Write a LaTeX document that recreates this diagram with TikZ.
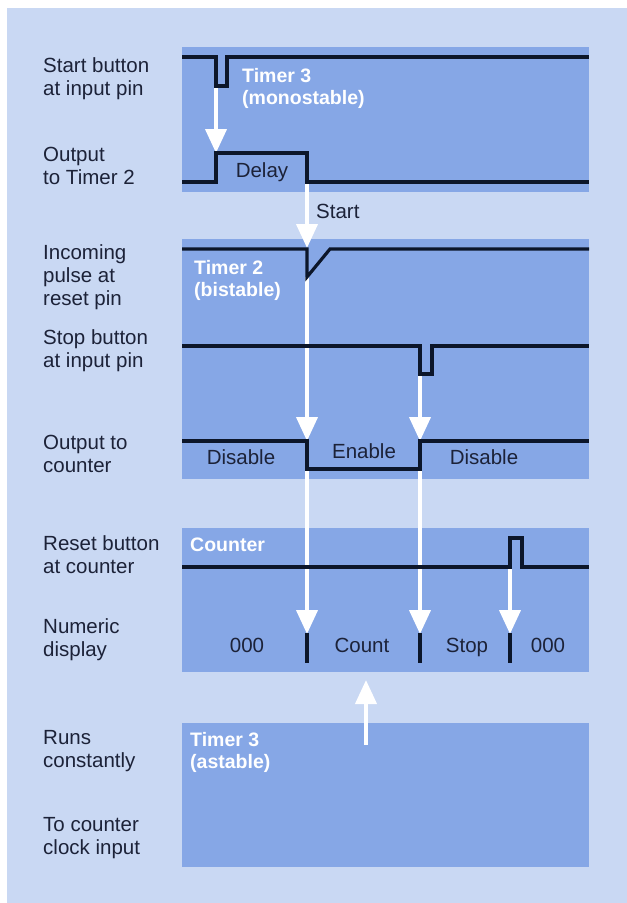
\documentclass[tikz,border=0pt]{standalone}
\usepackage{fontspec}
\setmainfont{Liberation Sans}
\usetikzlibrary{arrows.meta}
\definecolor{bgl}{RGB}{201,216,243}
\definecolor{boxb}{RGB}{134,167,230}
\definecolor{sig}{RGB}{12,22,42}
\definecolor{txt}{RGB}{28,34,56}
\begin{document}
\begin{tikzpicture}[x=1pt,y=-1pt,
  panel/.style={fill=boxb},
  sigline/.style={draw=sig,line width=3.2pt,line join=miter,line cap=butt},
  tick/.style={draw=sig,line width=3.2pt},
  warrow/.style={draw=white,line width=4pt,-{Triangle[width=21pt,length=24pt]}},
  lbl/.style={anchor=west,align=left,inner sep=0pt,text=txt,font=\fontsize{20.5}{23}\selectfont},
  wlbl/.style={anchor=west,align=left,inner sep=0pt,text=white,font=\bfseries\fontsize{19.5}{22}\selectfont},
  val/.style={inner sep=0pt,text=txt,text height=14.5pt,text depth=4pt,font=\fontsize{20.5}{22}\selectfont}
]
\useasboundingbox (0,0) rectangle (627,903);
\fill[white] (0,0) rectangle (627,903);
\fill[bgl] (7,8) rectangle (627,903);

% panels
\fill[panel] (182,47) rectangle (589,192);
\fill[panel] (182,239) rectangle (589,479);
\fill[panel] (182,528) rectangle (589,672);
\fill[panel] (182,723) rectangle (589,867);

% left labels
\node[lbl] (l1) at (43,78.5) {Start button\\at input pin};
\node[lbl] (l2) at (43,166) {Output\\to Timer 2};
\node[lbl] (l3) at (43,277) {Incoming\\pulse at\\reset pin};
\node[lbl] (l4) at (43,351) {Stop button\\at input pin};
\node[lbl] (l5) at (43,453.5) {Output to\\counter};
\node[lbl] (l6) at (43,554.5) {Reset button\\at counter};
\node[lbl] (l7) at (43,639.5) {Numeric\\display};
\node[lbl] (l8) at (43,751) {Runs\\constantly};
\node[lbl] (l9) at (43,838.5) {To counter\\clock input};

% white panel titles
\node[wlbl] (t1) at (242,88) {Timer 3\\(monostable)};
\node[wlbl] (t2) at (194,280) {Timer 2\\(bistable)};
\node[wlbl] (t3) at (190,545) {Counter};
\node[wlbl] (t4) at (190,752) {Timer 3\\(astable)};

% coordinates
\coordinate (a1s) at (216,86);   \coordinate (a1e) at (216,153);
\coordinate (a2s) at (307,182);  \coordinate (a2e) at (307,248);
\coordinate (a3s) at (307,277);  \coordinate (a3e) at (307,441);
\coordinate (a4s) at (307,469);  \coordinate (a4e) at (307,634);
\coordinate (a5s) at (420,374);  \coordinate (a5e) at (420,441);
\coordinate (a6s) at (420,469);  \coordinate (a6e) at (420,634);
\coordinate (a7s) at (510,567);  \coordinate (a7e) at (510,634);
\coordinate (a8s) at (366,745);  \coordinate (a8e) at (366,680);

% white arrows
\draw[warrow] (a1s) -- (a1e);
\draw[warrow] (a2s) -- (a2e);
\draw[warrow] (a3s) -- (a3e);
\draw[warrow] (a4s) -- (a4e);
\draw[warrow] (a5s) -- (a5e);
\draw[warrow] (a6s) -- (a6e);
\draw[warrow] (a7s) -- (a7e);
\draw[warrow] (a8s) -- (a8e);
\node[lbl] (st) at (316,211) {Start};

% signal lines
\draw[sigline] (182,57) -- (216,57) -- (216,86) -- (227,86) -- (227,57) -- (589,57);
\draw[sigline] (182,182) -- (216,182) -- (216,153) -- (307,153) -- (307,182) -- (589,182);
\draw[sigline] (182,249) -- (307,249) -- (307,277) -- (330,249) -- (589,249);
\draw[sigline] (182,346) -- (420,346) -- (420,374) -- (432,374) -- (432,346) -- (589,346);
\draw[sigline] (182,441) -- (307,441) -- (307,469) -- (420,469) -- (420,441) -- (589,441);
\draw[sigline] (182,567) -- (510,567) -- (510,538) -- (522,538) -- (522,567) -- (589,567);

% ticks
\draw[tick] (307,633) -- (307,663);
\draw[tick] (420,633) -- (420,663);
\draw[tick] (510,633) -- (510,663);

% values
\node[val] (v1) at (262,172) {Delay};
\node[val] (v2) at (241,459) {Disable};
\node[val] (v3) at (364,453) {Enable};
\node[val] (v4) at (484,459) {Disable};
\node[val] (v5) at (247,647) {000};
\node[val] (v6) at (362,647) {Count};
\node[val] (v7) at (467,647) {Stop};
\node[val] (v8) at (548,647) {000};
\end{tikzpicture}
\end{document}
